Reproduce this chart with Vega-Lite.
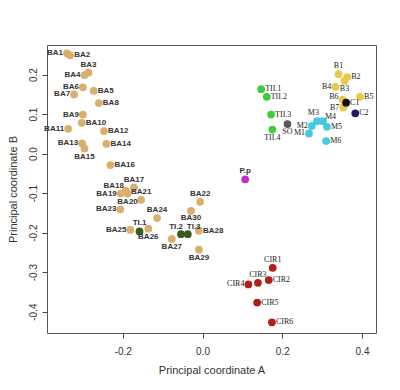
{
"$schema": "https://vega.github.io/schema/vega-lite/v6.json",
"width": 329, "height": 288,
"autosize": {"type": "none"},
"padding": {"left": 47, "top": 45, "right": 24, "bottom": 57},
"background": "white",
"config": {
  "view": {"stroke": "#555", "strokeWidth": 1},
  "axis": {"domain": false, "grid": false, "tickColor": "#444", "tickSize": 5, "labelColor": "#333", "labelFont": "Liberation Sans", "labelFontSize": 10, "titleFont": "Liberation Sans", "titleFontSize": 11, "titleFontWeight": "normal", "titleColor": "#333"}
},
"data": {"values": [
  {"name": "BA1", "x": -0.340, "y": 0.254, "group": "BA"},
  {"name": "BA2", "x": -0.332, "y": 0.249, "group": "BA"},
  {"name": "BA3", "x": -0.286, "y": 0.205, "group": "BA"},
  {"name": "BA4", "x": -0.296, "y": 0.199, "group": "BA"},
  {"name": "BA5", "x": -0.273, "y": 0.159, "group": "BA"},
  {"name": "BA6", "x": -0.300, "y": 0.168, "group": "BA"},
  {"name": "BA7", "x": -0.322, "y": 0.150, "group": "BA"},
  {"name": "BA8", "x": -0.260, "y": 0.128, "group": "BA"},
  {"name": "BA9", "x": -0.300, "y": 0.099, "group": "BA"},
  {"name": "BA10", "x": -0.303, "y": 0.078, "group": "BA"},
  {"name": "BA11", "x": -0.337, "y": 0.063, "group": "BA"},
  {"name": "BA12", "x": -0.247, "y": 0.057, "group": "BA"},
  {"name": "BA13", "x": -0.302, "y": 0.026, "group": "BA"},
  {"name": "BA14", "x": -0.241, "y": 0.025, "group": "BA"},
  {"name": "BA15", "x": -0.296, "y": 0.013, "group": "BA"},
  {"name": "BA16", "x": -0.231, "y": -0.029, "group": "BA"},
  {"name": "BA17", "x": -0.172, "y": -0.086, "group": "BA"},
  {"name": "BA18", "x": -0.192, "y": -0.094, "group": "BA"},
  {"name": "BA19", "x": -0.205, "y": -0.101, "group": "BA"},
  {"name": "BA20", "x": -0.188, "y": -0.101, "group": "BA"},
  {"name": "BA21", "x": -0.154, "y": -0.117, "group": "BA"},
  {"name": "BA22", "x": -0.006, "y": -0.122, "group": "BA"},
  {"name": "BA23", "x": -0.206, "y": -0.141, "group": "BA"},
  {"name": "BA24", "x": -0.114, "y": -0.163, "group": "BA"},
  {"name": "BA25", "x": -0.181, "y": -0.193, "group": "BA"},
  {"name": "BA26", "x": -0.136, "y": -0.190, "group": "BA"},
  {"name": "BA27", "x": -0.077, "y": -0.216, "group": "BA"},
  {"name": "BA28", "x": -0.009, "y": -0.195, "group": "BA"},
  {"name": "BA29", "x": -0.009, "y": -0.243, "group": "BA"},
  {"name": "BA30", "x": -0.029, "y": -0.145, "group": "BA"},
  {"name": "TI.1", "x": -0.158, "y": -0.197, "group": "TI"},
  {"name": "TI.2", "x": -0.054, "y": -0.204, "group": "TI"},
  {"name": "TI.3", "x": -0.037, "y": -0.204, "group": "TI"},
  {"name": "P.p", "x": 0.107, "y": -0.065, "group": "P"},
  {"name": "TII.1", "x": 0.147, "y": 0.163, "group": "TII"},
  {"name": "TII.2", "x": 0.161, "y": 0.144, "group": "TII"},
  {"name": "TII.3", "x": 0.172, "y": 0.099, "group": "TII"},
  {"name": "TII.4", "x": 0.175, "y": 0.061, "group": "TII"},
  {"name": "SO", "x": 0.213, "y": 0.075, "group": "SO"},
  {"name": "B1", "x": 0.341, "y": 0.201, "group": "B"},
  {"name": "B2", "x": 0.363, "y": 0.194, "group": "B"},
  {"name": "B3", "x": 0.356, "y": 0.184, "group": "B"},
  {"name": "B4", "x": 0.333, "y": 0.169, "group": "B"},
  {"name": "B5", "x": 0.395, "y": 0.144, "group": "B"},
  {"name": "B6", "x": 0.351, "y": 0.137, "group": "B"},
  {"name": "B7", "x": 0.353, "y": 0.117, "group": "B"},
  {"name": "C1", "x": 0.360, "y": 0.129, "group": "C1"},
  {"name": "C2", "x": 0.383, "y": 0.102, "group": "C2"},
  {"name": "M1", "x": 0.267, "y": 0.051, "group": "M"},
  {"name": "M2", "x": 0.274, "y": 0.070, "group": "M"},
  {"name": "M3", "x": 0.287, "y": 0.082, "group": "M"},
  {"name": "M4", "x": 0.302, "y": 0.082, "group": "M"},
  {"name": "M5", "x": 0.312, "y": 0.068, "group": "M"},
  {"name": "M6", "x": 0.310, "y": 0.032, "group": "M"},
  {"name": "CIR1", "x": 0.176, "y": -0.289, "group": "CIR"},
  {"name": "CIR2", "x": 0.166, "y": -0.320, "group": "CIR"},
  {"name": "CIR3", "x": 0.139, "y": -0.327, "group": "CIR"},
  {"name": "CIR4", "x": 0.115, "y": -0.331, "group": "CIR"},
  {"name": "CIR5", "x": 0.137, "y": -0.377, "group": "CIR"},
  {"name": "CIR6", "x": 0.174, "y": -0.427, "group": "CIR"}
]},
"encoding": {
  "x": {"field": "x", "type": "quantitative", "scale": {"domain": [-0.39, 0.435], "nice": false, "zero": false},
        "axis": {"values": [-0.2, 0, 0.2, 0.4], "labelExpr": "replace(format(datum.value, '.1f'), '−', '-')", "labelPadding": 8, "title": "Principal coordinate A", "titlePadding": 8}},
  "y": {"field": "y", "type": "quantitative", "scale": {"domain": [-0.454, 0.275], "nice": false, "zero": false},
        "axis": {"values": [-0.4, -0.3, -0.2, -0.1, 0, 0.1, 0.2], "labelExpr": "replace(format(datum.value, '.1f'), '−', '-')", "labelAngle": -90, "labelAlign": "center", "labelBaseline": "bottom", "labelPadding": 4, "title": "Principal coordinate B", "titlePadding": 10}}
},
"layer": [
  {"mark": {"type": "circle", "size": 60, "opacity": 1},
   "encoding": {"color": {"field": "group", "type": "nominal", "legend": null,
     "scale": {"domain": ["BA", "TI", "P", "TII", "SO", "B", "C1", "C2", "M", "CIR"],
               "range": ["#dcae6c", "#3d5b1c", "#c42ac4", "#3fcc3a", "#5a5a5a", "#e8c94a", "#111111", "#1c1c6a", "#45c9e0", "#b0201a"]}}}},
  {"transform": [{"filter": {"field": "name", "oneOf": ["BA2", "BA5", "BA8", "BA10", "BA12", "BA14", "BA16", "BA28"]}}],
   "mark": {"type": "text", "align": "left", "baseline": "middle", "dx": 4, "font": "Liberation Sans", "fontSize": 8, "fontWeight": "bold", "color": "#333"},
   "encoding": {"text": {"field": "name"}}},
  {"transform": [{"filter": {"field": "name", "oneOf": ["BA1", "BA4", "BA6", "BA7", "BA9", "BA11", "BA13", "BA19", "BA23", "BA25"]}}],
   "mark": {"type": "text", "align": "right", "baseline": "middle", "dx": -4, "font": "Liberation Sans", "fontSize": 8, "fontWeight": "bold", "color": "#333"},
   "encoding": {"text": {"field": "name"}}},
  {"transform": [{"filter": {"field": "name", "oneOf": ["BA18"]}}],
   "mark": {"type": "text", "align": "right", "baseline": "middle", "dx": -2, "dy": -5, "font": "Liberation Sans", "fontSize": 8, "fontWeight": "bold", "color": "#333"},
   "encoding": {"text": {"field": "name"}}},
  {"transform": [{"filter": {"field": "name", "oneOf": ["BA3", "BA17", "BA21", "BA24", "TI.1", "BA22", "P.p"]}}],
   "mark": {"type": "text", "align": "center", "baseline": "bottom", "dy": -4, "font": "Liberation Sans", "fontSize": 8, "fontWeight": "bold", "color": "#333"},
   "encoding": {"text": {"field": "name"}}},
  {"transform": [{"filter": {"field": "name", "oneOf": ["TI.2"]}}],
   "mark": {"type": "text", "align": "right", "baseline": "bottom", "dx": 2, "dy": -3, "font": "Liberation Sans", "fontSize": 8, "fontWeight": "bold", "color": "#333"},
   "encoding": {"text": {"field": "name"}}},
  {"transform": [{"filter": {"field": "name", "oneOf": ["TI.3"]}}],
   "mark": {"type": "text", "align": "left", "baseline": "bottom", "dx": -1, "dy": -3, "font": "Liberation Sans", "fontSize": 8, "fontWeight": "bold", "color": "#333"},
   "encoding": {"text": {"field": "name"}}},
  {"transform": [{"filter": {"field": "name", "oneOf": ["BA15", "BA20", "BA26", "BA27", "BA29"]}}],
   "mark": {"type": "text", "align": "center", "baseline": "top", "dy": 4, "font": "Liberation Sans", "fontSize": 8, "fontWeight": "bold", "color": "#333"},
   "encoding": {"text": {"field": "name"}}},
  {"transform": [{"filter": {"field": "name", "oneOf": ["BA30"]}}],
   "mark": {"type": "text", "align": "center", "baseline": "top", "dy": 3, "font": "Liberation Sans", "fontSize": 8, "fontWeight": "bold", "color": "#333"},
   "encoding": {"text": {"field": "name"}}},
  {"transform": [{"filter": {"field": "name", "oneOf": ["B2", "B5", "C1", "C2", "TII.1", "TII.2", "TII.3", "M5", "M6", "CIR2", "CIR5", "CIR6"]}}],
   "mark": {"type": "text", "align": "left", "baseline": "middle", "dx": 4, "font": "Liberation Serif", "fontSize": 8, "color": "#222"},
   "encoding": {"text": {"field": "name"}}},
  {"transform": [{"filter": {"field": "name", "oneOf": ["B4", "M2", "M1", "CIR4"]}}],
   "mark": {"type": "text", "align": "right", "baseline": "middle", "dx": -4, "font": "Liberation Serif", "fontSize": 8, "color": "#222"},
   "encoding": {"text": {"field": "name"}}},
  {"transform": [{"filter": {"field": "name", "oneOf": ["B6"]}}],
   "mark": {"type": "text", "align": "right", "baseline": "middle", "dx": -4, "dy": -2.5, "font": "Liberation Serif", "fontSize": 8, "color": "#222"},
   "encoding": {"text": {"field": "name"}}},
  {"transform": [{"filter": {"field": "name", "oneOf": ["B7"]}}],
   "mark": {"type": "text", "align": "right", "baseline": "middle", "dx": -4, "dy": 1, "font": "Liberation Serif", "fontSize": 8, "color": "#222"},
   "encoding": {"text": {"field": "name"}}},
  {"transform": [{"filter": {"field": "name", "oneOf": ["B1", "CIR1", "CIR3"]}}],
   "mark": {"type": "text", "align": "center", "baseline": "bottom", "dy": -4, "font": "Liberation Serif", "fontSize": 8, "color": "#222"},
   "encoding": {"text": {"field": "name"}}},
  {"transform": [{"filter": {"field": "name", "oneOf": ["M3"]}}],
   "mark": {"type": "text", "align": "right", "baseline": "bottom", "dx": 2, "dy": -4, "font": "Liberation Serif", "fontSize": 8, "color": "#222"},
   "encoding": {"text": {"field": "name"}}},
  {"transform": [{"filter": {"field": "name", "oneOf": ["M4"]}}],
   "mark": {"type": "text", "align": "left", "baseline": "middle", "dx": 2, "dy": -4, "font": "Liberation Serif", "fontSize": 8, "color": "#222"},
   "encoding": {"text": {"field": "name"}}},
  {"transform": [{"filter": {"field": "name", "oneOf": ["B3", "TII.4", "SO"]}}],
   "mark": {"type": "text", "align": "center", "baseline": "top", "dy": 4, "font": "Liberation Serif", "fontSize": 8, "color": "#222"},
   "encoding": {"text": {"field": "name"}}}
]
}
